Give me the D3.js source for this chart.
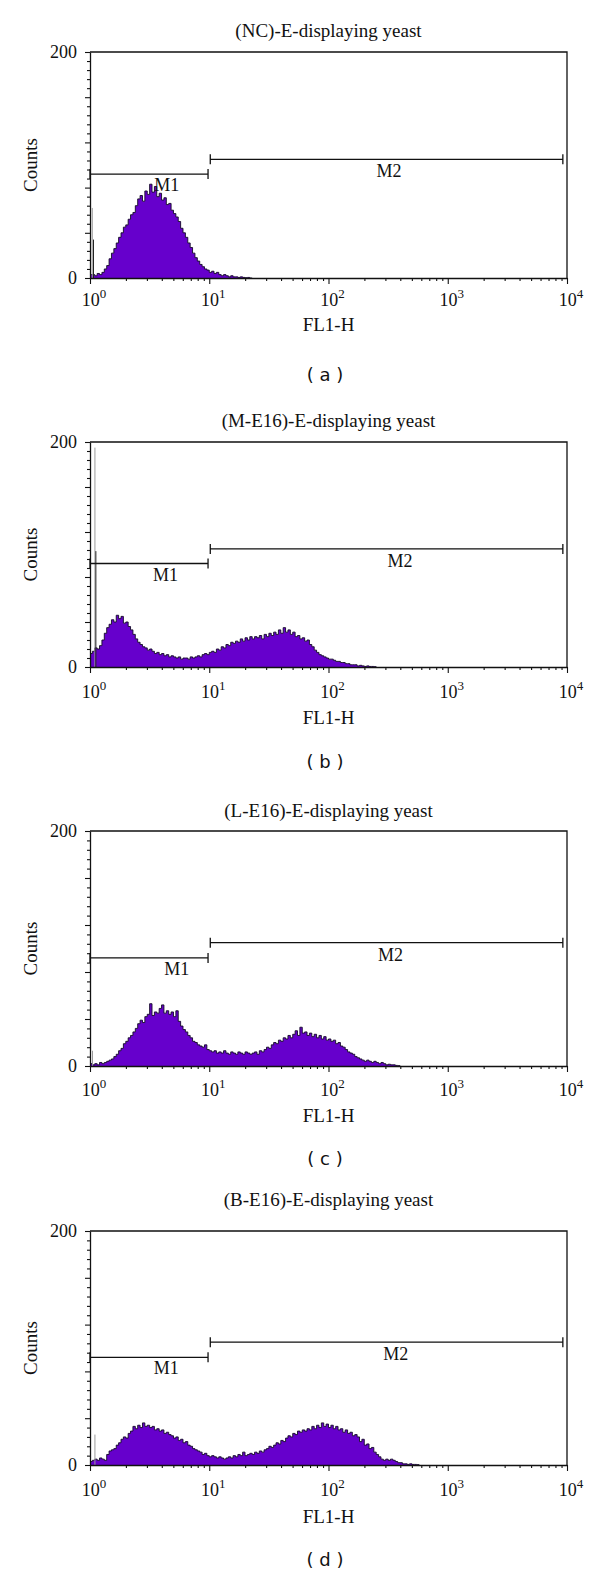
<!DOCTYPE html>
<html><head><meta charset="utf-8">
<script src="https://cdn.jsdelivr.net/npm/d3@7/dist/d3.min.js"></script>
<style>
body{margin:0;background:#fff}
text{font-family:"Liberation Serif","Times New Roman",serif;fill:#111}
</style>
</head><body><svg id="c" width="600" height="1579" xmlns="http://www.w3.org/2000/svg"></svg>
<script>
// ---------------- DATA ----------------
const panelTitles = ["(NC)-E-displaying yeast","(M-E16)-E-displaying yeast","(L-E16)-E-displaying yeast","(B-E16)-E-displaying yeast"];
const captions = ["( a )","( b )","( c )","( d )"];
const xAxisLabel = "FL1-H";
const yAxisLabel = "Counts";
const xTickExponents = [0,1,2,3,4];
const yTickLabels = [0,200];
const channelStep = 0.02; // decades per histogram channel, starting at 10^0

const histA = [3,3,2,4,3,5,8,11,17,22,26,31,36,40,45,47,52,56,58,64,70,73,68,77,74,83,76,81,72,75,69,71,65,66,60,57,54,50,44,40,36,31,27,22,18,15,12,10,8,7,5,6,4,5,3,2,3,2,1,2,1,1,0.5,1,0.5,0.3,0.5,0,0];
const histB = [12,14,17,16,19,24,30,35,38,42,40,46,43,45,39,40,36,33,29,25,22,20,18,17,15,16,14,12,13,11,12,10,11,9,10,9,8,9,7,8,8,7,9,8,9,10,9,11,12,11,13,14,13,16,15,18,17,20,19,22,21,23,22,25,23,26,24,27,25,27,26,28,25,29,27,30,28,31,29,33,30,35,31,33,29,31,27,28,25,26,23,24,20,18,15,13,11,10,9,8,7,7,6,5,5,4,4,3,3,2,2,2,1,1.5,1,0.5,1,0.5,0.5,0.3,0];
const histC = [2,1,2,1,3,2,3,4,5,6,8,10,13,15,19,21,24,26,29,32,36,39,37,42,44,53,43,46,45,49,52,45,47,44,46,42,47,38,34,31,29,26,24,21,20,18,17,16,18,14,13,12,13,11,12,11,13,11,10,12,11,10,12,11,10,12,11,10,11,12,10,13,12,14,16,15,18,20,19,22,21,24,23,26,24,27,30,26,33,28,29,26,28,25,27,24,26,23,25,22,23,21,22,19,20,17,16,14,12,11,10,8,7,6,5,4,5,4,3,4,3,2,3,2,1,1.5,1,1,0.5,0.3,0];
const histD = [3,4,5,4,6,5,4,9,12,13,14,17,19,22,24,23,27,29,33,31,34,32,36,33,34,32,33,30,31,29,30,27,28,26,25,23,24,21,22,19,20,17,16,14,13,12,11,9,10,8,7,8,7,6,7,6,5,6,7,6,8,7,9,8,11,8,9,10,9,11,10,12,11,13,14,16,15,17,19,18,21,20,23,25,24,27,26,29,28,30,29,31,30,33,31,34,32,36,33,35,32,34,31,33,30,31,28,30,27,28,25,26,24,20,22,17,18,14,15,11,9,7,5,4,5,4,5,4,3,2,2,1,1,0.5,1,0.5,0.5,0.3,0];
const histograms = [histA, histB, histC, histD];

// first-channel spikes: FL1-H position and counts (first = light, second = dark)
const spikeFL = [[1.045,1.07],[1.1,1.12],[1.05],[1.1]];
const spikeCounts = [[62,34],[195,103],[13],[26]];

// gate markers
const markerNames = ["M1","M2"];
const markerRanges = [[1,9.77],[10.2,9230]];
const markerCounts = [92,105];
const markerLabelFL = [[4.4,321],[4.3,398],[5.35,331],[4.35,367]];

// ---------------- LAYOUT ----------------
const layout = [
  {top:52,  bottom:278,  titleY:37,   tickY:306,  xlabY:331,  capY:381},
  {top:442, bottom:667,  titleY:427,  tickY:698,  xlabY:724,  capY:768},
  {top:831, bottom:1066, titleY:817,  tickY:1096, xlabY:1122, capY:1165},
  {top:1231,bottom:1465, titleY:1206, tickY:1496, xlabY:1523, capY:1566}
];
const X0 = 90, X1 = 567;
const SERIF = "Liberation Serif";

const svg = d3.select("#c");
svg.append("rect").attr("width",600).attr("height",1579).attr("fill","#fff");
const x = d3.scaleLog().domain([1,10000]).range([X0,X1]);

const minorLog = [];
for (let e=0;e<4;e++) for (let m=1;m<10;m++) minorLog.push(m*Math.pow(10,e));
minorLog.push(10000);

panelTitles.forEach((title,k)=>{
  const L = layout[k];
  const y = d3.scaleLinear().domain([0,200]).range([L.bottom, L.top]);
  const g = svg.append("g");

  // histogram
  const pts = histograms[k].map((c,i)=>({fl:Math.pow(10,i*channelStep), c}));
  const area = d3.area().x(d=>x(d.fl)).y0(y(0)).y1(d=>y(d.c)).curve(d3.curveStepAfter);
  const line = d3.line().x(d=>x(d.fl)).y(d=>y(d.c)).curve(d3.curveStepAfter);
  g.append("path").datum(pts).attr("d",area).attr("fill","#6600cc");
  g.append("path").datum(pts).attr("d",line).attr("fill","none")
    .attr("stroke","#140a28").attr("stroke-width",1).attr("stroke-opacity",0.9);

  // spikes
  spikeFL[k].forEach((fl,j)=>{
    g.append("line").attr("x1",x(fl)).attr("x2",x(fl))
      .attr("y1",y(0)).attr("y2",y(spikeCounts[k][j]))
      .attr("stroke", j===0 ? "#9a9a9a" : "#222").attr("stroke-width",1);
  });

  // frame (top / right)
  g.append("path")
    .attr("d",`M${X0},${L.top}H${X1}V${L.bottom}`)
    .attr("fill","none").attr("stroke","#111").attr("stroke-width",1.3);

  // left axis
  const ya = d3.axisLeft(y).tickValues(d3.range(0,201,8))
    .tickFormat(d => yTickLabels.includes(d) ? d : "")
    .tickSizeInner(5).tickSizeOuter(0).tickPadding(8);
  const yg = g.append("g").attr("transform",`translate(${X0},0)`).call(ya);
  yg.selectAll(".tick line").attr("x2", d => d%40===0 ? -5 : -3).attr("stroke","#111").attr("stroke-width",1.1);
  yg.select(".domain").attr("stroke","#111").attr("stroke-width",1.3);
  yg.selectAll("text").style("font-size","18px").style("font-family",SERIF).attr("fill","#111");

  // bottom axis
  const xa = d3.axisBottom(x).tickValues(minorLog).tickFormat("").tickSizeInner(5).tickSizeOuter(0);
  const xg = g.append("g").attr("transform",`translate(0,${L.bottom})`).call(xa);
  xg.selectAll(".tick line").attr("y2", d => Math.abs(Math.log10(d)-Math.round(Math.log10(d)))<1e-9 ? 6 : 3)
    .attr("stroke","#111").attr("stroke-width",1.1);
  xg.select(".domain").attr("stroke","#111").attr("stroke-width",1.3);

  // x tick labels 10^n
  xTickExponents.forEach(e=>{
    const t = g.append("text").attr("x", x(Math.pow(10,e))+4).attr("y", L.tickY)
      .attr("text-anchor","middle").style("font-family",SERIF).style("font-size","18px");
    t.append("tspan").text("10");
    t.append("tspan").attr("dy",-8).style("font-size","13px").text(e);
  });

  // axis labels
  g.append("text").attr("x",(X0+X1)/2).attr("y",L.xlabY).attr("text-anchor","middle")
    .style("font-family",SERIF).style("font-size","19px").text(xAxisLabel);
  g.append("text").attr("transform",`translate(37,${(L.top+L.bottom)/2}) rotate(-90)`)
    .attr("text-anchor","middle").style("font-family",SERIF).style("font-size","19px").text(yAxisLabel);

  // title
  g.append("text").attr("x",(X0+X1)/2).attr("y",L.titleY).attr("text-anchor","middle")
    .style("font-family",SERIF).style("font-size","19px").text(title);

  // caption
  g.append("text").attr("x",325).attr("y",L.capY).attr("text-anchor","middle")
    .style("font-family","DejaVu Sans").style("font-size","18px").attr("xml:space","preserve").text(captions[k]);

  // markers
  markerNames.forEach((name,m)=>{
    const [a,b] = markerRanges[m];
    const yy = y(markerCounts[m]);
    g.append("path")
      .attr("d",`M${x(a)},${yy}H${x(b)}M${x(a)},${yy-5}V${yy+5}M${x(b)},${yy-5}V${yy+5}`)
      .attr("fill","none").attr("stroke","#111").attr("stroke-width",1.3);
    g.append("text").attr("x",x(markerLabelFL[k][m])).attr("y",yy + (m===0?17:18))
      .attr("text-anchor","middle").style("font-family",SERIF).style("font-size","18px").text(name);
  });
});
</script></body></html>
